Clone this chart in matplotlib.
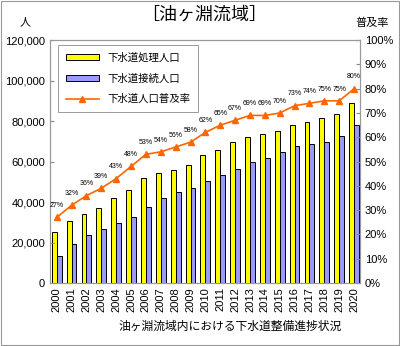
import numpy as np
import matplotlib
matplotlib.use("Agg")
import matplotlib.pyplot as plt
from matplotlib.patches import Rectangle
from matplotlib.ticker import FuncFormatter

plt.rcParams['font.family'] = ['Liberation Sans', 'Noto Sans CJK JP', 'DejaVu Sans']

years = [str(y) for y in range(2000, 2021)]
shori = [25000, 30600, 34200, 37200, 41800, 45900, 52000, 54200, 55800, 58100,
         63200, 65700, 69800, 72200, 73400, 75000, 78000, 79700, 81500, 83300, 88700]
setsuzoku = [13300, 19100, 23500, 26700, 29500, 32700, 37400, 42100, 44800, 47100,
             50500, 53300, 56400, 59900, 61600, 64700, 67500, 68500, 69500, 72400, 78000]
fukyu = [27, 32, 36, 39, 43, 48, 53, 54, 56, 58, 62, 65, 67, 69, 69, 70, 73, 74, 75, 75, 80]

fig = plt.figure(figsize=(4, 3.46), dpi=100)
ax = fig.add_axes([0.125, 0.182, 0.775, 0.702])
x = np.arange(len(years))
w = 0.33

b1 = ax.bar(x - w/2, shori, w, color='#ffff00', edgecolor='black', linewidth=0.7, label='下水道処理人口')
b2 = ax.bar(x + w/2, setsuzoku, w, color='#9999ff', edgecolor='black', linewidth=0.7, label='下水道接続人口')
ax.set_ylim(0, 120000)
ax.set_xlim(-0.45, 20.4)
ax.set_yticks(range(0, 120001, 20000))
ax.yaxis.set_major_formatter(FuncFormatter(lambda v, p: f'{int(v):,}'))
ax.set_xticks(x)
ax.set_xticklabels(years, rotation=90, fontsize=8)
ax.tick_params(axis='y', labelsize=8, direction='in', length=3, color='#888888')
ax.tick_params(axis='x', length=0, pad=3)
for s in ax.spines.values():
    s.set_color('#999999')
    s.set_linewidth(0.8)

ax2 = ax.twinx()
l1, = ax2.plot(x, fukyu, color='#ff6600', marker='^', markersize=4.5, linewidth=1.2, label='下水道人口普及率')
ax2.set_ylim(0, 100)
ax2.set_yticks(range(0, 101, 10))
ax2.yaxis.set_major_formatter(FuncFormatter(lambda v, p: f'{int(v)}%'))
ax2.tick_params(axis='y', labelsize=8, direction='in', length=3, color='#888888')
for s in ax2.spines.values():
    s.set_color('#999999')
    s.set_linewidth(0.8)
for xi, v in zip(x, fukyu):
    ax2.annotate(f'{v}%', (xi, v), xytext=(0, 6), textcoords='offset points',
                 ha='center', va='bottom', fontsize=5)

leg = ax.legend(handles=[b1, b2, l1], loc='upper left', bbox_to_anchor=(0.01, 1.0),
                fontsize=7.5, fancybox=False, edgecolor='#999999', handlelength=3.2,
                handleheight=0.45, borderpad=0.7, labelspacing=1.0, framealpha=1)
leg.get_frame().set_linewidth(0.7)

fig.text(0.51, 0.955, '［油ヶ淵流域］', ha='center', va='center', fontsize=13)
fig.text(0.063, 0.935, '人', ha='center', va='center', fontsize=8)
fig.text(0.93, 0.935, '普及率', ha='center', va='center', fontsize=8)
fig.text(0.575, 0.055, '油ヶ淵流域内における下水道整備進捗状況', ha='center', va='center', fontsize=8.5)

fig.patches.append(Rectangle((0.003, 0.003), 0.994, 0.994, transform=fig.transFigure,
                             fill=False, edgecolor='#999999', linewidth=0.8))

fig.savefig('out.png', dpi=100)
